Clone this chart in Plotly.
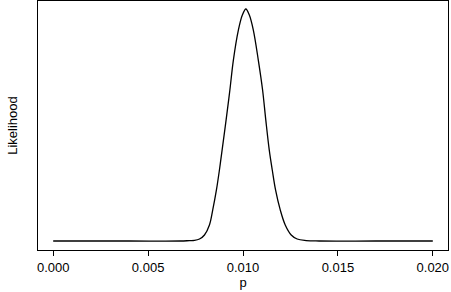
import plotly.graph_objects as go

# Relative likelihood
p_vals = [0.0, 0.004, 0.0067, 0.007182, 0.007444, 0.007707, 0.007970, 0.008232,
          0.008406, 0.008600, 0.008758, 0.008899, 0.009110, 0.009309, 0.009493,
          0.009756, 0.009966, 0.010150, 0.010334, 0.010544,
          0.010806, 0.011032, 0.011200, 0.011384, 0.011542, 0.011715,
          0.011962, 0.012225, 0.012540, 0.012855, 0.013328, 0.014011, 0.017, 0.020]
lik_vals = [0.0, 0.0, 0.0, 0.0017, 0.0026, 0.0086, 0.026, 0.069,
            0.134, 0.220, 0.306, 0.392, 0.522, 0.651, 0.780,
            0.909, 0.974, 1.0, 0.974, 0.909,
            0.780, 0.651, 0.522, 0.392, 0.306, 0.220,
            0.134, 0.069, 0.026, 0.0086, 0.002, 0.0, 0.0, 0.0]
x_ticks = [0.0, 0.005, 0.010, 0.015, 0.020]
x_tick_labels = ["0.000", "0.005", "0.010", "0.015", "0.020"]

fig = go.Figure()
fig.add_trace(go.Scatter(x=p_vals, y=lik_vals, mode="lines",
                         line=dict(color="black", width=1.3, shape="spline", smoothing=1.0),
                         showlegend=False, hoverinfo="skip"))

font = dict(family="Liberation Sans, Arial, Helvetica, sans-serif", size=13, color="black")
fig.update_layout(
    width=451, height=292,
    margin=dict(l=38, r=3, t=1, b=42),
    paper_bgcolor="white", plot_bgcolor="white",
    font=font,
    xaxis=dict(range=[-0.0008, 0.0208], tickvals=x_ticks, ticktext=x_tick_labels,
               ticks="outside", ticklen=5, tickcolor="black", tickwidth=1,
               showline=True, linecolor="black", linewidth=1, mirror=True,
               showgrid=False, zeroline=False,
               title=dict(text="p", standoff=3, font=font)),
    yaxis=dict(range=[-0.0388, 1.0345], showticklabels=False, ticks="",
               showline=True, linecolor="black", linewidth=1, mirror=True,
               showgrid=False, zeroline=False,
               title=dict(text="Likelihood", standoff=16, font=font)),
)
fig.write_html("out.html")
